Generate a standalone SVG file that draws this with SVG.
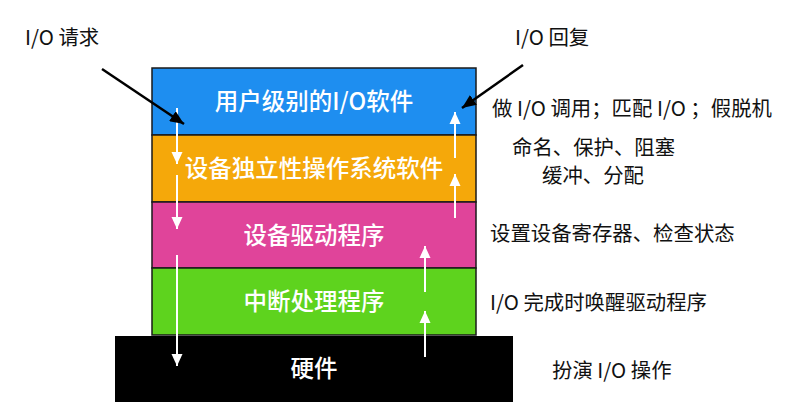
<svg xmlns="http://www.w3.org/2000/svg" width="794" height="419" viewBox="0 0 794 419">
<defs>
<style>
.layer{stroke:#1a1a1a;stroke-width:1.5}
.lt{font-family:"Noto Sans CJK SC","Noto Sans",sans-serif;font-size:23.5px;font-weight:500;fill:#ffffff;text-anchor:middle}
.note{font-family:"Noto Sans CJK SC","Noto Sans",sans-serif;font-size:20.4px;fill:#111111}
.wa{stroke:#ffffff;stroke-width:2;fill:none}
.ba{stroke:#000000;stroke-width:2.5;fill:none}
</style>
<marker id="wh" markerUnits="userSpaceOnUse" viewBox="0 0 12 12" refX="12" refY="6" markerWidth="12" markerHeight="12" orient="auto">
<path d="M0,0.5 L12,6 L0,11.5 Z" fill="#ffffff"/>
</marker>
<marker id="bh" markerUnits="userSpaceOnUse" viewBox="0 0 14 12" refX="14" refY="6" markerWidth="14" markerHeight="12" orient="auto">
<path d="M0,0 L14,6 L0,12 Z" fill="#000000"/>
</marker>
</defs>
<rect width="794" height="419" fill="#ffffff"/>
<g id="user-io">
<rect class="layer" x="152" y="68" width="324" height="67" fill="#1E8EF0"/>
<text class="lt" x="314" y="110">用户级别的I/O软件</text>
</g>
<g id="device-independent">
<rect class="layer" x="152" y="135" width="324" height="67" fill="#F5A80A"/>
<text class="lt" x="314" y="177">设备独立性操作系统软件</text>
</g>
<g id="device-driver">
<rect class="layer" x="152" y="202" width="324" height="66" fill="#E0449A"/>
<text class="lt" x="314" y="244">设备驱动程序</text>
</g>
<g id="interrupt-handler">
<rect class="layer" x="152" y="268" width="324" height="67" fill="#5ED31E"/>
<text class="lt" x="314" y="310">中断处理程序</text>
</g>
<g id="hardware">
<rect x="115" y="336" width="398" height="66" fill="#000000"/>
<text class="lt" x="314" y="377">硬件</text>
</g>
<g id="connectors">
<line class="wa" x1="177" y1="108" x2="177" y2="164" marker-end="url(#wh)"/>
<line class="wa" x1="177" y1="175" x2="177" y2="229" marker-end="url(#wh)"/>
<line class="wa" x1="177" y1="255" x2="177" y2="366" marker-end="url(#wh)"/>
<line class="wa" x1="455" y1="158" x2="455" y2="112" marker-end="url(#wh)"/>
<line class="wa" x1="455" y1="218" x2="455" y2="174" marker-end="url(#wh)"/>
<line class="wa" x1="425" y1="292" x2="425" y2="246" marker-end="url(#wh)"/>
<line class="wa" x1="425" y1="357" x2="425" y2="311" marker-end="url(#wh)"/>
<line class="ba" x1="102" y1="69" x2="184" y2="124" marker-end="url(#bh)"/>
<line class="ba" x1="523" y1="65" x2="462" y2="108" marker-end="url(#bh)"/>
</g>
<g id="labels">
<text class="note" x="25" y="45">I/O 请求</text>
<text class="note" x="515" y="45">I/O 回复</text>
<text class="note" x="492" y="116">做 I/O 调用；匹配 I/O ；假脱机</text>
<text class="note" x="512" y="155">命名、保护、阻塞</text>
<text class="note" x="542" y="183">缓冲、分配</text>
<text class="note" x="490" y="241">设置设备寄存器、检查状态</text>
<text class="note" x="490" y="310">I/O 完成时唤醒驱动程序</text>
<text class="note" x="552" y="378">扮演 I/O 操作</text>
</g>
</svg>
